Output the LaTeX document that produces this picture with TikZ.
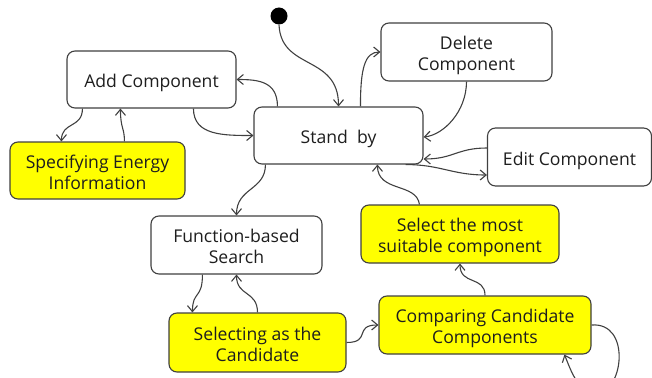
\documentclass[tikz,border=0pt]{standalone}
\usepackage{fontspec}
\setmainfont{Open Sans}
\usetikzlibrary{arrows.meta}
\definecolor{edgegray}{HTML}{404040}
\definecolor{stateyellow}{HTML}{FFFF00}
\definecolor{textdark}{HTML}{1E1E1E}
% struts that fix the height of the first and the depth of the last text line
\newcommand\firstline{\rule{0pt}{21pt}}
\newcommand\lastline{\rule[-5pt]{0pt}{5pt}}
\begin{document}
\begin{tikzpicture}[x=1pt,y=-1pt,
  state/.style={draw=edgegray, line width=1.1pt, rounded corners=8pt, fill=white,
    align=center, inner sep=0pt, text=textdark,
    font=\fontsize{17.6}{21}\selectfont},
  hl/.style={state, fill=stateyellow},
  wire/.style={draw=edgegray, line width=1.1pt},
  flow/.style={wire, -{Straight Barb[length=6pt,width=10pt]}}]
\useasboundingbox (0,0) rectangle (652,377);

% initial pseudo-state
\node[circle, fill=black, minimum size=17pt, inner sep=0pt] (init) at (279,16) {};

% states
\node[state, minimum width=169pt, minimum height=57pt] (add)   at (151.5,79.5) {\firstline Add Component\lastline};
\node[hl,    minimum width=175pt, minimum height=57pt] (spec)  at (97.5,170.5) {\firstline Specifying Energy\\Information\lastline};
\node[state, minimum width=169pt, minimum height=57pt] (stand) at (338.5,135.5) {\firstline Stand~~by\lastline};
\node[state, minimum width=171pt, minimum height=58pt] (del)   at (466.5,52) {\firstline Delete\\Component\lastline};
\node[state, minimum width=164pt, minimum height=58pt] (edit)  at (569.5,157) {\firstline Edit Component\lastline};
\node[state, minimum width=171pt, minimum height=58pt] (func)  at (236.5,245) {\firstline Function-based\\Search\lastline};
\node[hl,    minimum width=177pt, minimum height=59pt] (sel)   at (257.5,342.5) {\firstline Selecting as the\\Candidate\lastline};
\node[hl,    minimum width=198pt, minimum height=58pt] (most)  at (460,234) {\firstline Select the most\\suitable component\lastline};
\node[hl,    minimum width=212pt, minimum height=58pt] (comp)  at (485,325) {\firstline Comparing Candidate\\Components\lastline};

% transitions
\draw[flow] (init.south) .. controls +(2,46) and +(0,-52) .. (stand.north);
\draw[flow] ([xshift=24pt]stand.north west) .. controls +(0,-25) and +(22,0) .. (add.east);
\draw[flow] ([xshift=127pt]add.south west) .. controls +(0,27) and +(-30,0) .. (stand.west);
\draw[flow] ([xshift=16pt]add.south west) .. controls +(0,20) and +(0,-20) .. ([xshift=52pt]spec.north west);
\draw[flow] ([xshift=115pt]spec.north west) .. controls +(0,-14) and +(0,20) .. ([xshift=54pt]add.south west);
\draw[flow] ([xshift=107pt]stand.north west) .. controls +(0,-37) and +(-16,0) .. (del.west);
\draw[flow] (del.south) .. controls +(0,30) and +(20,-2) .. ([yshift=-1.5pt]stand.east);
\draw[flow] ([yshift=9pt]edit.west) .. controls +(-30,0) and +(30,0) .. ([yshift=-23.5pt]stand.east);
\draw[flow] ([xshift=-18pt]stand.south east) .. controls +(35,0) and +(-35,0) .. ([yshift=-18pt]edit.west);
\draw[flow] ([xshift=12pt]stand.south west) .. controls +(0,26) and +(0,-28) .. (func.north);
\draw[flow] ([xshift=52pt]func.south west) .. controls +(0,25) and +(0,-22) .. ([xshift=24pt]sel.north west);
\draw[flow] (sel.north) .. controls +(0,-22) and +(0,22) .. (func.south);
\draw[flow] (sel.east) .. controls +(25,0) and +(-25,0) .. (comp.west);
\draw[flow] (comp.north) .. controls +(0,-20) and +(0,22) .. (most.south);
\draw[flow] ([xshift=59pt]most.north west) .. controls +(-3,-22) and +(0,28) .. ([xshift=124pt]stand.south west);

% self transition of the comparison state (runs below the lower edge)
\coordinate (loopbottom) at (598,392);
\draw[flow] (comp.east) .. controls +(40,-3) and +(25,0) .. (loopbottom)
  .. controls +(-20,0) and +(8,20) .. ([xshift=186pt]comp.south west);
\end{tikzpicture}
\end{document}
